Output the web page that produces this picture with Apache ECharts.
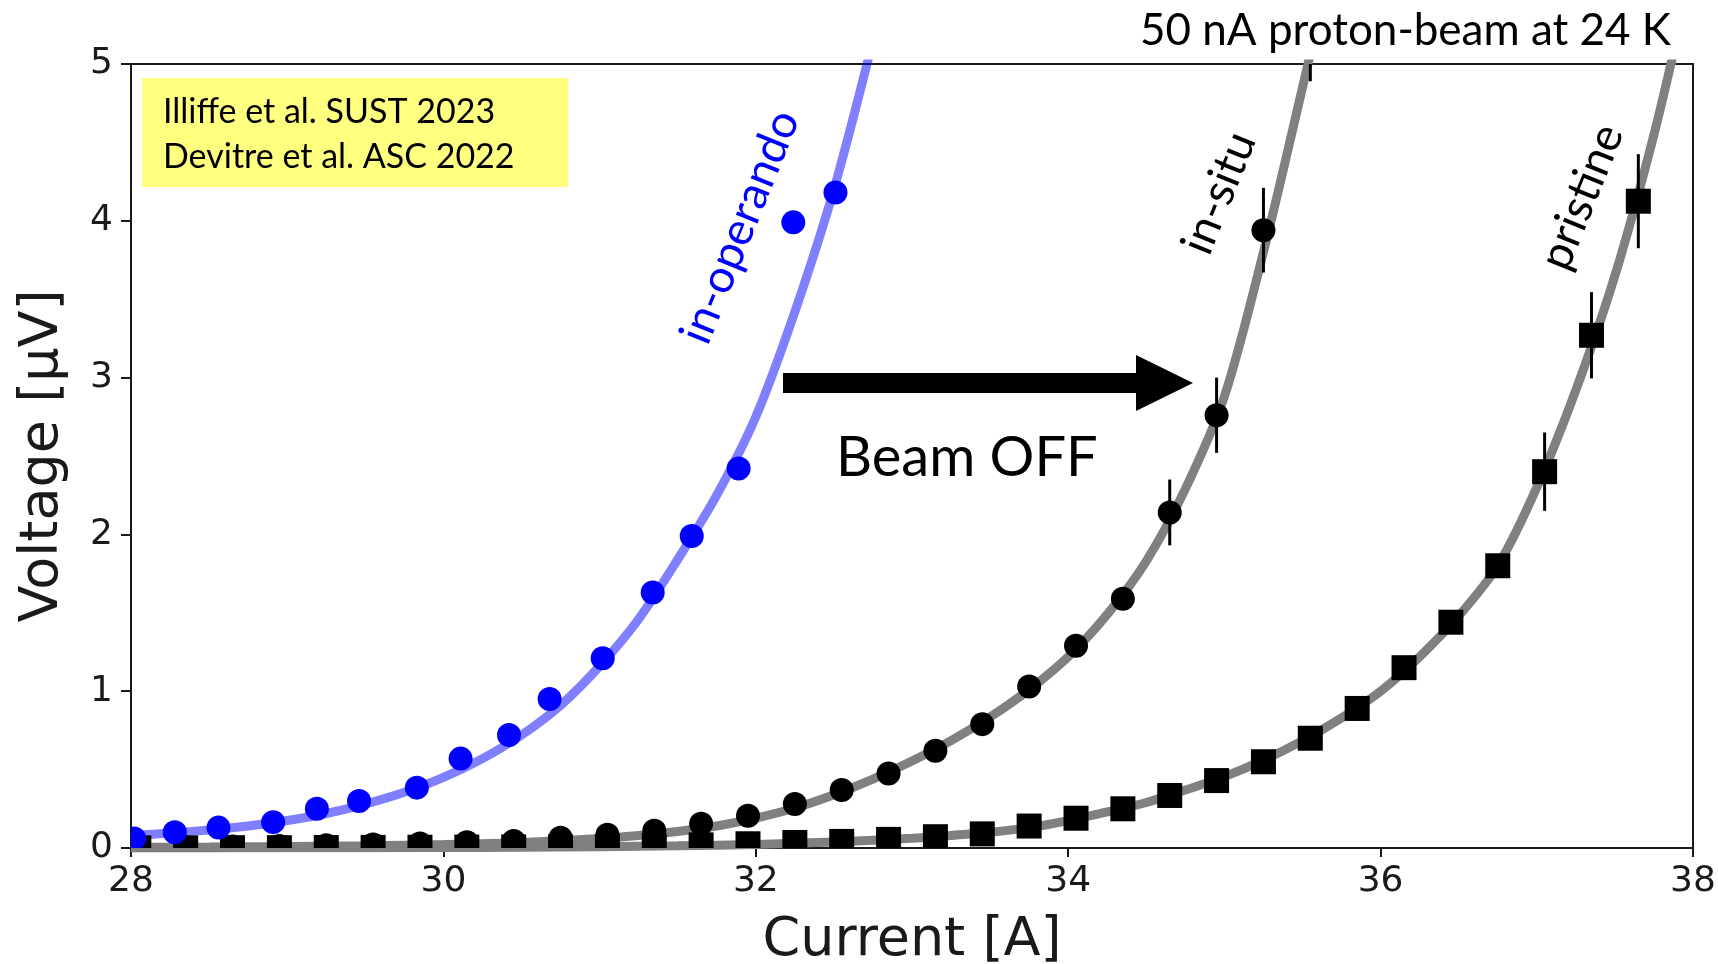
<!DOCTYPE html>
<html>
<head>
<meta charset="utf-8">
<script src="https://cdn.jsdelivr.net/npm/echarts@6/dist/echarts.min.js"></script>
<style>
html, body { margin: 0; padding: 0; background: #ffffff; }
#chart { width: 1718px; height: 964px; }
</style>
</head>
<body>
<div id="chart"></div>
<script>
// V–I transitions of a REBCO tape under a 50 nA proton beam at 24 K.
// Current in A, voltage in µV.

// in-operando (beam on) measurements
const operandoI = [28.02, 28.28, 28.56, 28.91, 29.19, 29.46, 29.83, 30.11, 30.42, 30.68, 31.02, 31.34, 31.59, 31.89, 32.24, 32.51];
const operandoV = [0.06, 0.10, 0.13, 0.165, 0.25, 0.30, 0.385, 0.57, 0.72, 0.95, 1.21, 1.63, 1.99, 2.42, 3.99, 4.18];

// in-situ (beam off) measurements and their error bars
const insituI = [28.05, 28.35, 28.65, 28.95, 29.25, 29.55, 29.85, 30.15, 30.45, 30.75, 31.05, 31.35, 31.65, 31.95, 32.25, 32.55, 32.85, 33.15, 33.45, 33.75, 34.05, 34.35, 34.65, 34.95, 35.25, 35.55];
const insituV = [0.004, 0.006, 0.009, 0.012, 0.017, 0.022, 0.028, 0.037, 0.045, 0.065, 0.085, 0.11, 0.155, 0.205, 0.28, 0.37, 0.475, 0.62, 0.79, 1.03, 1.29, 1.59, 2.14, 2.76, 3.94, 5.2];
const insituErr = [0, 0, 0, 0, 0, 0, 0, 0, 0, 0, 0, 0, 0, 0, 0, 0, 0, 0, 0, 0, 0, 0, 0.21, 0.24, 0.27, 0.31];

// pristine tape measurements and their error bars
const pristineI = [28.05, 28.35, 28.65, 28.95, 29.25, 29.55, 29.85, 30.15, 30.45, 30.75, 31.05, 31.35, 31.65, 31.95, 32.25, 32.55, 32.85, 33.15, 33.45, 33.75, 34.05, 34.35, 34.65, 34.95, 35.25, 35.55, 35.85, 36.15, 36.45, 36.75, 37.05, 37.35, 37.65];
const pristineV = [0.001, 0.001, 0.002, 0.002, 0.003, 0.004, 0.005, 0.006, 0.007, 0.008, 0.01, 0.015, 0.02, 0.027, 0.035, 0.042, 0.055, 0.072, 0.09, 0.14, 0.19, 0.25, 0.335, 0.43, 0.55, 0.70, 0.89, 1.15, 1.44, 1.80, 2.40, 3.27, 4.125];
const pristineErr = [0, 0, 0, 0, 0, 0, 0, 0, 0, 0, 0, 0, 0, 0, 0, 0, 0, 0, 0, 0, 0, 0, 0, 0, 0, 0, 0, 0, 0, 0, 0.25, 0.275, 0.30];

// fitted curves, sampled along current
const operandoFitI = [28.0, 28.25, 28.5, 28.75, 29.0, 29.25, 29.5, 29.75, 30.0, 30.25, 30.5, 30.75, 31.0, 31.25, 31.5, 31.75, 32.0, 32.25, 32.5, 32.75];
const operandoFitV = [0.08, 0.095, 0.115, 0.14, 0.175, 0.22, 0.28, 0.355, 0.45, 0.57, 0.72, 0.91, 1.16, 1.46, 1.84, 2.25, 2.75, 3.42, 4.2, 5.15];
const insituFitI = [28.0, 28.5, 29.0, 29.5, 30.0, 30.5, 31.0, 31.25, 31.5, 31.75, 32.0, 32.25, 32.5, 32.75, 33.0, 33.25, 33.5, 33.75, 34.0, 34.25, 34.5, 34.75, 35.0, 35.25, 35.5, 35.65];
const insituFitV = [0.004, 0.006, 0.009, 0.014, 0.022, 0.035, 0.06, 0.08, 0.105, 0.14, 0.19, 0.255, 0.34, 0.44, 0.555, 0.685, 0.835, 1.01, 1.22, 1.49, 1.83, 2.29, 2.88, 3.8, 4.85, 5.5];
const pristineFitI = [28.0, 29.0, 30.0, 30.5, 31.0, 31.5, 32.0, 32.5, 33.0, 33.25, 33.5, 33.75, 34.0, 34.25, 34.5, 34.75, 35.0, 35.25, 35.5, 35.75, 36.0, 36.25, 36.5, 36.75, 37.0, 37.25, 37.5, 37.75, 37.95];
const pristineFitV = [0.0005, 0.001, 0.003, 0.005, 0.008, 0.014, 0.023, 0.038, 0.062, 0.08, 0.10, 0.13, 0.175, 0.23, 0.29, 0.37, 0.455, 0.56, 0.685, 0.83, 1.0, 1.22, 1.48, 1.8, 2.3, 2.92, 3.65, 4.55, 5.4];

// axis ranges
const xMin = 28, xMax = 38, xStep = 2;
const yMin = 0, yMax = 5, yStep = 1;

const pairs = (xs, ys) => xs.map((x, i) => [x, ys[i]]);
const errBars = (xs, ys, es) => xs.map((x, i) => [x, ys[i] - es[i], ys[i] + es[i]]).filter((d, i) => es[i] > 0);

const axisFont = "'DejaVu Sans', sans-serif";
const noteFont = "Lato, 'Open Sans', sans-serif";
const axisColor = '#1a1a1a';
const deg = Math.PI / 180;

const chart = echarts.init(document.getElementById('chart'), null, { renderer: 'canvas' });

// vertical error bars, cut at the plot frame
const errorSeries = (data) => ({
  type: 'custom',
  data: data,
  encode: { x: 0, y: [1, 2] },
  clip: true,
  z: 4,
  renderItem: function (params, api) {
    const x = api.value(0);
    const p1 = api.coord([x, api.value(1)]);
    const p2 = api.coord([x, api.value(2)]);
    return {
      type: 'line',
      shape: { x1: p1[0], y1: p1[1], x2: p2[0], y2: p2[1] },
      style: { stroke: '#000000', lineWidth: 3 }
    };
  }
});

// markers drawn as shapes so they are cut at the plot frame
const markerSeries = (data, shape, size, color, z) => ({
  type: 'custom',
  data: data,
  encode: { x: 0, y: 1 },
  clip: true,
  z: z,
  renderItem: function (params, api) {
    const p = api.coord([api.value(0), api.value(1)]);
    if (shape === 'rect') {
      return { type: 'rect', shape: { x: p[0] - size / 2, y: p[1] - size / 2, width: size, height: size },
               style: { fill: color } };
    }
    return { type: 'circle', shape: { cx: p[0], cy: p[1], r: size / 2 }, style: { fill: color } };
  }
});

chart.setOption({
  animation: false,
  backgroundColor: '#ffffff',
  grid: {
    left: 131, top: 64, width: 1562, height: 784,
    outerBoundsMode: 'none', containLabel: false,
    show: true, borderColor: axisColor, borderWidth: 2, backgroundColor: 'transparent'
  },
  xAxis: {
    type: 'value', min: xMin, max: xMax, interval: xStep,
    name: 'Current [A]', nameLocation: 'middle', nameGap: 66,
    nameTextStyle: { fontFamily: axisFont, fontSize: 54, color: axisColor },
    axisLine: { show: true, lineStyle: { color: axisColor, width: 2 } },
    axisTick: { show: true, length: 9, lineStyle: { color: axisColor, width: 2 } },
    axisLabel: { fontFamily: axisFont, fontSize: 36, color: axisColor, margin: 16 },
    splitLine: { show: false }
  },
  yAxis: {
    type: 'value', min: yMin, max: yMax, interval: yStep,
    name: 'Voltage [µV]', nameLocation: 'middle', nameGap: 61,
    nameTextStyle: { fontFamily: axisFont, fontSize: 54, color: axisColor },
    axisLine: { show: true, lineStyle: { color: axisColor, width: 2 } },
    axisTick: { show: true, length: 10, lineStyle: { color: axisColor, width: 2 } },
    axisLabel: { fontFamily: axisFont, fontSize: 36, color: axisColor, margin: 18 },
    splitLine: { show: false }
  },
  series: [
    { type: 'line', data: pairs(operandoFitI, operandoFitV), smooth: 0.3, symbol: 'none', z: 2,
      lineStyle: { color: 'rgba(0,0,255,0.5)', width: 9 } },
    { type: 'line', data: pairs(insituFitI, insituFitV), smooth: 0.3, symbol: 'none', z: 2,
      lineStyle: { color: '#808080', width: 9 } },
    { type: 'line', data: pairs(pristineFitI, pristineFitV), smooth: 0.3, symbol: 'none', z: 2,
      lineStyle: { color: '#808080', width: 9 } },
    errorSeries(errBars(insituI, insituV, insituErr)),
    errorSeries(errBars(pristineI, pristineV, pristineErr)),
    markerSeries(pairs(pristineI, pristineV), 'rect', 25, '#000000', 5),
    markerSeries(pairs(insituI, insituV), 'circle', 24, '#000000', 5),
    markerSeries(pairs(operandoI, operandoV), 'circle', 24, '#0000ff', 6)
  ],
  graphic: [
    { type: 'rect', shape: { x: 142, y: 78, width: 426, height: 109 }, style: { fill: '#ffff80' }, z: 10 },
    { type: 'text', x: 163, y: 112, z: 11,
      style: { text: 'Illiffe et al. SUST 2023', fill: '#000', fontSize: 34, fontFamily: noteFont,
               textAlign: 'left', textVerticalAlign: 'middle', align: 'left', verticalAlign: 'middle' } },
    { type: 'text', x: 163, y: 157, z: 11,
      style: { text: 'Devitre et al. ASC 2022', fill: '#000', fontSize: 34, fontFamily: noteFont,
               textAlign: 'left', textVerticalAlign: 'middle', align: 'left', verticalAlign: 'middle' } },
    { type: 'text', x: 1671, y: 31, z: 11,
      style: { text: '50 nA proton-beam at 24 K', fill: '#000', fontSize: 44, fontFamily: noteFont,
               textAlign: 'right', textVerticalAlign: 'middle', align: 'right', verticalAlign: 'middle' } },
    { type: 'text', x: 836, y: 458, z: 11,
      style: { text: 'Beam OFF', fill: '#000', fontSize: 56, fontFamily: noteFont,
               textAlign: 'left', textVerticalAlign: 'middle', align: 'left', verticalAlign: 'middle' } },
    { type: 'polygon', z: 11,
      shape: { points: [[783, 373], [1136, 373], [1136, 355], [1193, 383], [1136, 411], [1136, 393], [783, 393]] },
      style: { fill: '#000' } },
    { type: 'text', x: 740, y: 227, rotation: 68 * deg, z: 11,
      style: { text: 'in-operando', fill: '#0000ff', fontSize: 46, fontFamily: noteFont,
               textAlign: 'center', textVerticalAlign: 'middle', align: 'center', verticalAlign: 'middle' } },
    { type: 'text', x: 1219, y: 193, rotation: 68 * deg, z: 11,
      style: { text: 'in-situ', fill: '#000', fontSize: 46, fontFamily: noteFont,
               textAlign: 'center', textVerticalAlign: 'middle', align: 'center', verticalAlign: 'middle' } },
    { type: 'text', x: 1582, y: 197, rotation: 68 * deg, z: 11,
      style: { text: 'pristine', fill: '#000', fontSize: 46, fontFamily: noteFont,
               textAlign: 'center', textVerticalAlign: 'middle', align: 'center', verticalAlign: 'middle' } }
  ]
});
</script>
</body>
</html>
